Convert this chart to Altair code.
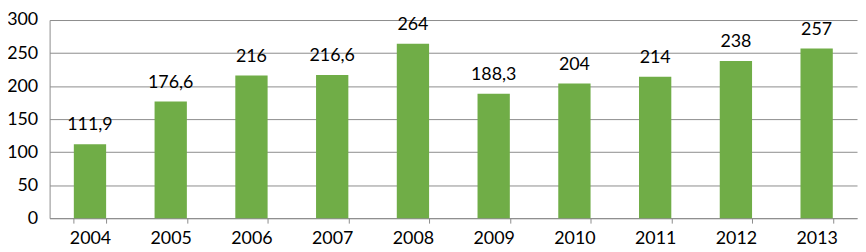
import altair as alt
import pandas as pd

years = ["2004", "2005", "2006", "2007", "2008", "2009", "2010", "2011", "2012", "2013"]
values = [111.9, 176.6, 216, 216.6, 264, 188.3, 204, 214, 238, 257]
labels = ["111,9", "176,6", "216", "216,6", "264", "188,3", "204", "214", "238", "257"]

df = pd.DataFrame({"year": years, "value": values, "label": labels})

x = alt.X("year:N", title=None,
          scale=alt.Scale(paddingInner=0.6, paddingOuter=0.3),
          axis=alt.Axis(labelAngle=0, tickBand="extent", tickSize=5, tickColor="#8c8c8c",
                        domainColor="#8c8c8c", labelFontSize=18, labelFont="Lato",
                        labelColor="#000000", labelPadding=7))
y = alt.Y("value:Q", title=None,
          scale=alt.Scale(domain=[0, 300], nice=False),
          axis=alt.Axis(values=[0, 50, 100, 150, 200, 250, 300], ticks=False,
                        domainColor="#8c8c8c", gridColor="#8c8c8c", labelFontSize=18,
                        labelFont="Lato", labelColor="#000000", labelPadding=12))

bars = alt.Chart(df).mark_bar(color="#70AD47").encode(x=x, y=y)
text = alt.Chart(df).mark_text(baseline="bottom", dy=-10, fontSize=18, font="Lato",
                               color="#000000").encode(x=x, y=y, text="label:N")

chart = (bars + text).properties(
    width=815, height=200,
    autosize=alt.AutoSizeParams(type="none"),
    padding={"left": 42, "top": 11, "right": 1, "bottom": 33},
).configure_view(stroke=None).configure_axis(gridWidth=1, domainWidth=1)

chart.save("out.html", embed_options={"renderer": "svg", "actions": False})
